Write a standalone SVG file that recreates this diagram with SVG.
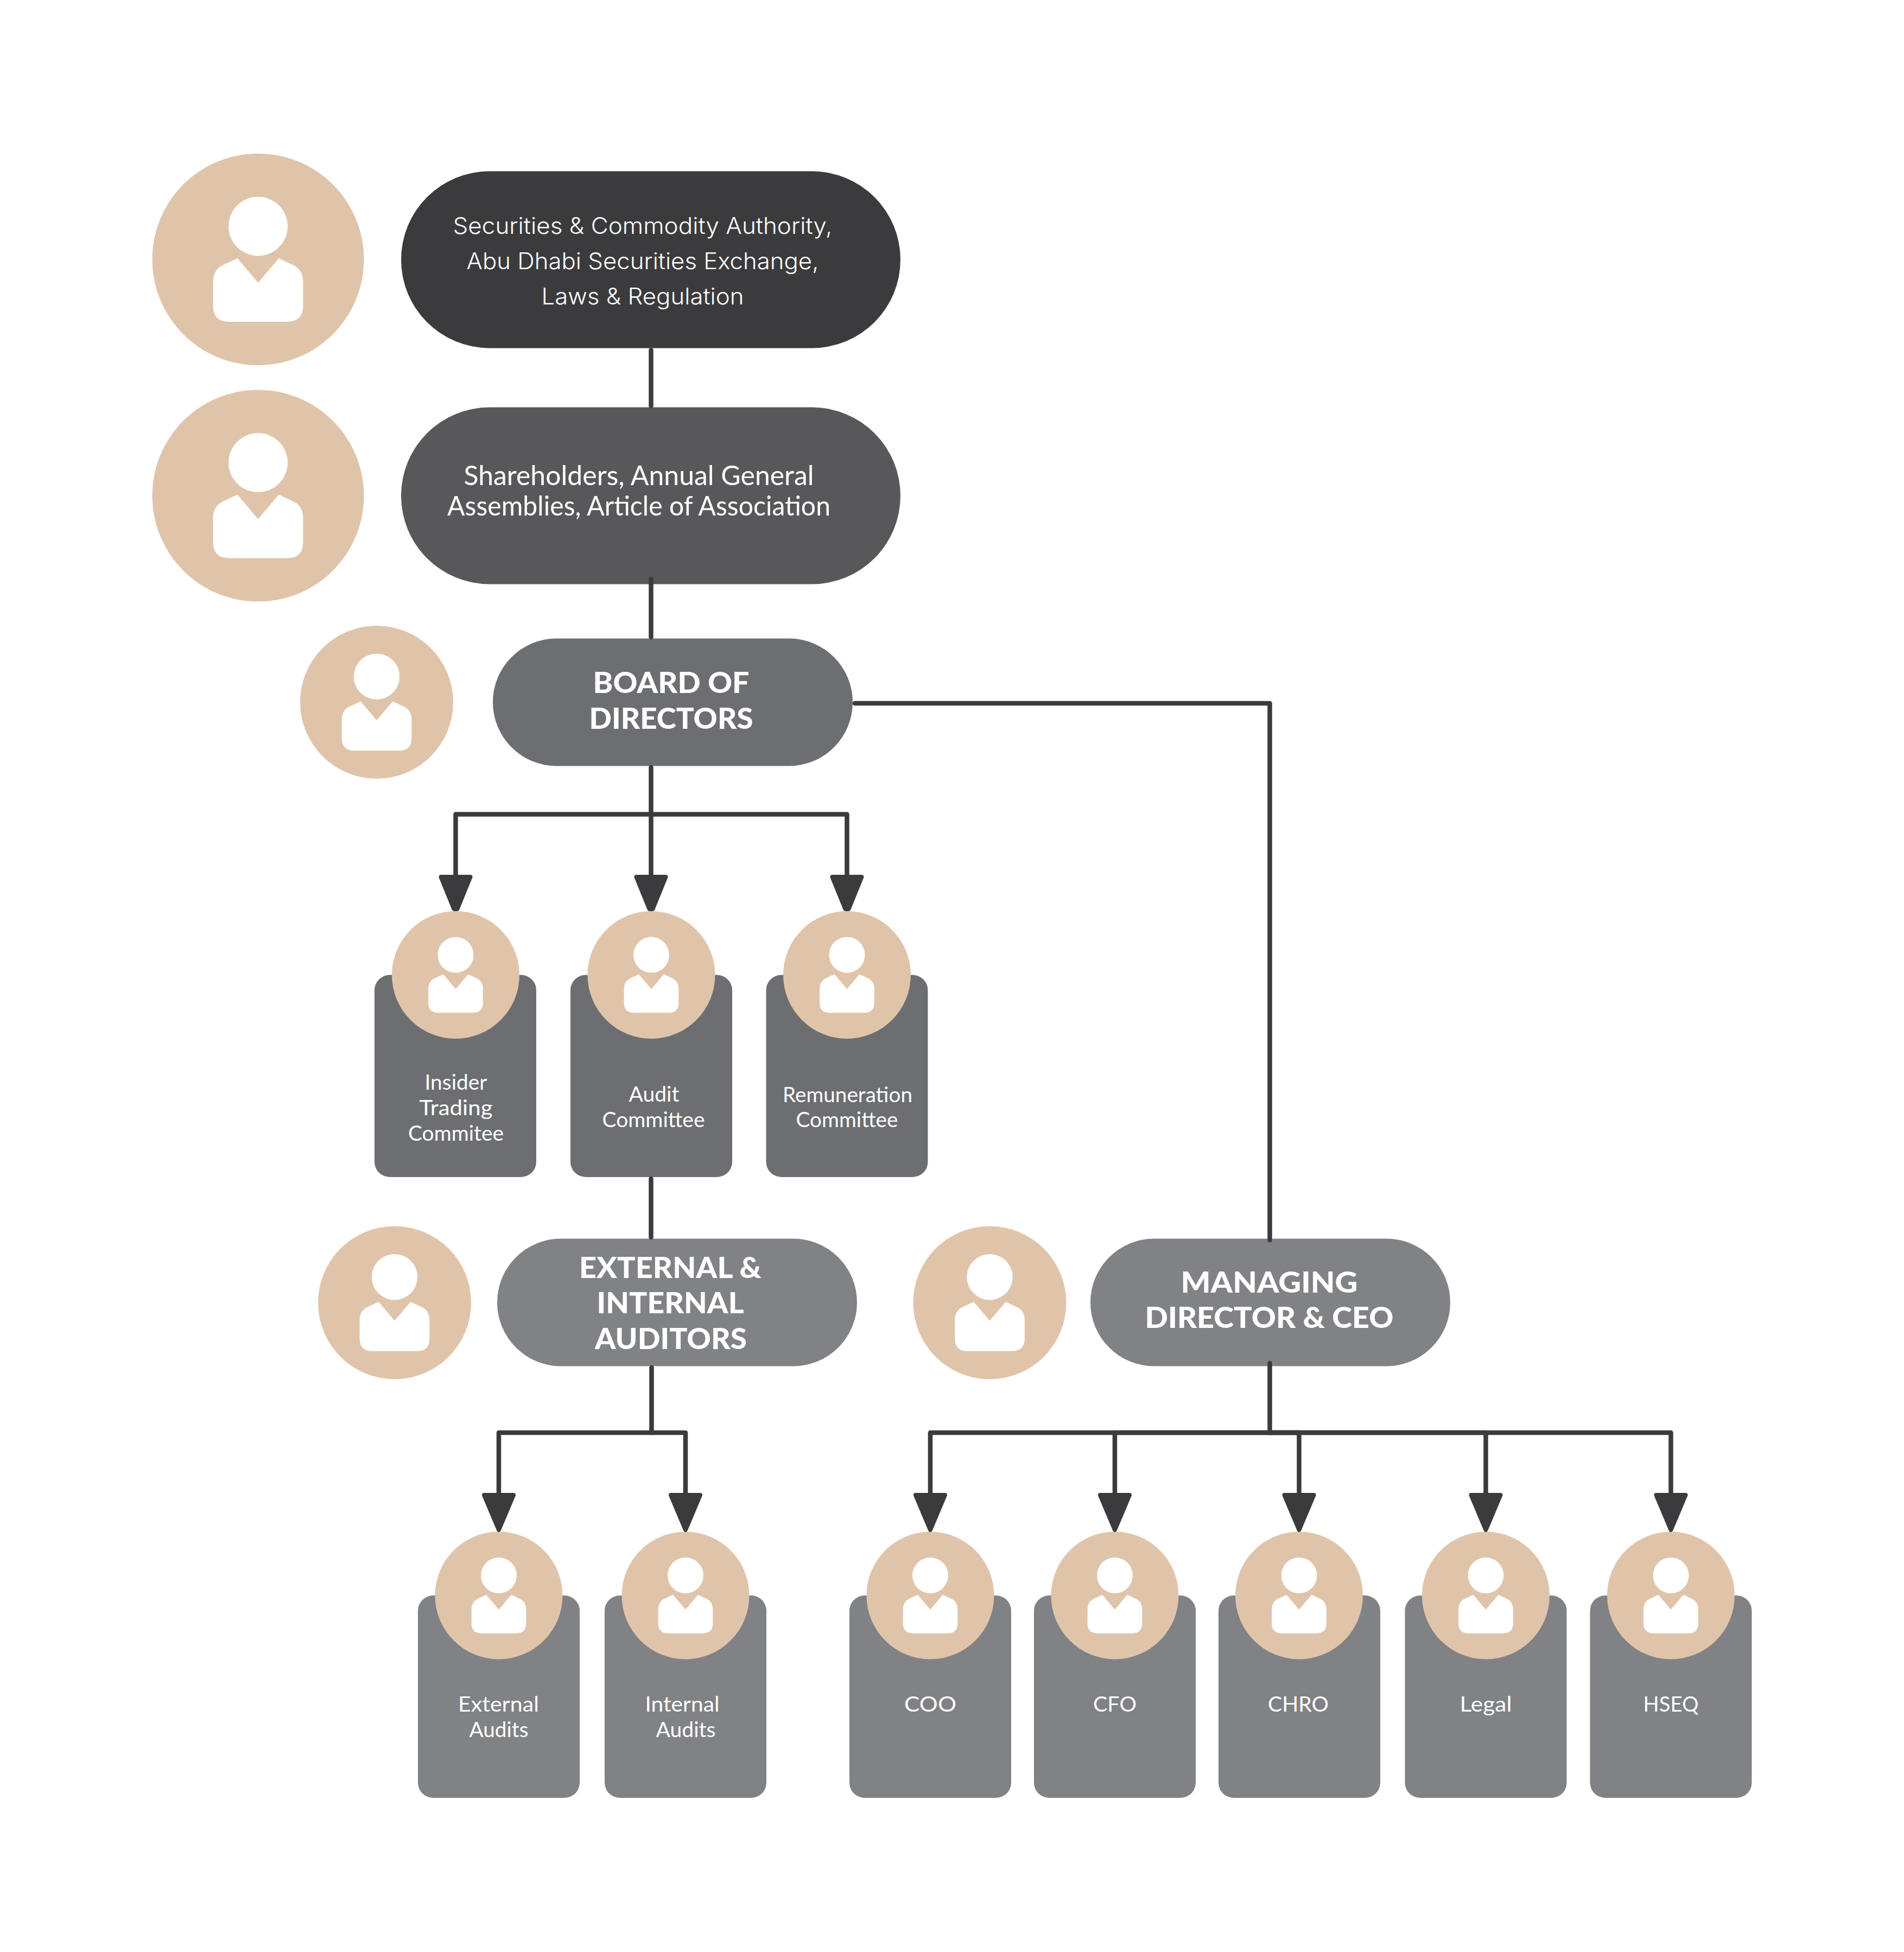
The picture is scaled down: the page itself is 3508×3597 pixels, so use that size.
<svg xmlns="http://www.w3.org/2000/svg" width="3508" height="3597" viewBox="0 0 3508 3597">
<style>
.c{fill:none;stroke:#3b3b3d;stroke-width:8.500;stroke-linejoin:round;stroke-linecap:round}
.a1{marker-end:url(#arrow1)}
.a2{marker-end:url(#arrow2)}
.disc{fill:#e0c4aa}
.fig{fill:#fff}
.p1{fill:#3b3b3d}.p2{fill:#58585a}.p3{fill:#6d6e71}.p4{fill:#808285}
text{fill:#fff;text-anchor:middle;font-family:"Lato","Liberation Sans",sans-serif}
.lg{font-family:"Inter","Liberation Sans",sans-serif;font-size:42px;font-weight:300}
.md{font-size:50px}
.bd{font-size:54px;font-weight:900}
.sm{font-size:39px}
</style>
<defs>
<marker id="arrow1" markerUnits="userSpaceOnUse" markerWidth="80" markerHeight="72" viewBox="0 -36 80 72" refX="0" refY="0" orient="auto" overflow="visible"><path d="M4,-27L4,27L63,3L63,-3Z" fill="#3b3b3d" stroke="#3b3b3d" stroke-width="8" stroke-linejoin="round"/></marker>
<marker id="arrow2" markerUnits="userSpaceOnUse" markerWidth="80" markerHeight="72" viewBox="0 -36 80 72" refX="0" refY="0" orient="auto" overflow="visible"><path d="M4,-27L4,27L68,0Z" fill="#3b3b3d" stroke="#3b3b3d" stroke-width="8" stroke-linejoin="round"/></marker>
<g id="fig">
<circle class="fig" cx="0" cy="-61" r="54.500"/>
<path class="fig" d="M-38,-2L0,43L38,-2L66,11Q83,20 83,42L83,85Q83,115 53,115L-53,115Q-83,115 -83,85L-83,42Q-83,20 -66,11Z"/>
</g>
</defs>

<g id="n-authority">
<rect class="p1" x="739" y="315.500" width="920" height="326" rx="163"/>
<circle class="disc" cx="475.500" cy="478" r="195"/><use href="#fig" transform="translate(475.500 478)"/>
<text class="lg" x="1184" y="431" textLength="699" lengthAdjust="spacingAndGlyphs">Securities &amp; Commodity Authority,</text>
<text class="lg" x="1184" y="496" textLength="649" lengthAdjust="spacingAndGlyphs">Abu Dhabi Securities Exchange,</text>
<text class="lg" x="1184" y="561" textLength="373" lengthAdjust="spacingAndGlyphs">Laws &amp; Regulation</text>
</g>
<g id="n-shareholders">
<rect class="p2" x="739" y="750.500" width="920" height="326" rx="163"/>
<circle class="disc" cx="475.500" cy="913.500" r="195"/><use href="#fig" transform="translate(475.500 913.500)"/>
<text class="md" x="1177" y="893.500" textLength="645" lengthAdjust="spacingAndGlyphs">Shareholders, Annual General</text>
<text class="md" x="1177" y="949.500" textLength="706" lengthAdjust="spacingAndGlyphs">Assemblies, Article of Association</text>
</g>
<g id="n-board">
<rect class="p3" x="908" y="1176.500" width="663" height="235" rx="117.500"/>
<circle class="disc" cx="694" cy="1294" r="141"/><use href="#fig" transform="translate(694 1294) scale(.775)"/>
<text class="bd" x="1236.500" y="1277" textLength="288" lengthAdjust="spacingAndGlyphs">BOARD OF</text>
<text class="bd" x="1236.500" y="1342.500" textLength="302" lengthAdjust="spacingAndGlyphs">DIRECTORS</text>
</g>
<g id="n-insider">
<rect class="p3" x="690" y="1796.500" width="298" height="372.500" rx="28"/>
<circle class="disc" cx="839.500" cy="1796.500" r="117.500"/><use href="#fig" transform="translate(839.500 1796.500) scale(.606)"/>
<text class="sm" x="840" y="2008" textLength="115" lengthAdjust="spacingAndGlyphs">Insider</text>
<text class="sm" x="840" y="2054.500" textLength="135" lengthAdjust="spacingAndGlyphs">Trading</text>
<text class="sm" x="840" y="2102" textLength="176" lengthAdjust="spacingAndGlyphs">Commitee</text>
</g>
<g id="n-audit">
<rect class="p3" x="1051" y="1796.500" width="298" height="372.500" rx="28"/>
<circle class="disc" cx="1200" cy="1796.500" r="117.500"/><use href="#fig" transform="translate(1200 1796.500) scale(.606)"/>
<text class="sm" x="1205" y="2029.500" textLength="93" lengthAdjust="spacingAndGlyphs">Audit</text>
<text class="sm" x="1204" y="2077" textLength="189" lengthAdjust="spacingAndGlyphs">Committee</text>
</g>
<g id="n-remuneration">
<rect class="p3" x="1411.500" y="1796.500" width="298" height="372.500" rx="28"/>
<circle class="disc" cx="1560.500" cy="1796.500" r="117.500"/><use href="#fig" transform="translate(1560.500 1796.500) scale(.606)"/>
<text class="sm" x="1561.500" y="2030.500" textLength="239" lengthAdjust="spacingAndGlyphs">Remuneration</text>
<text class="sm" x="1560.500" y="2077" textLength="188" lengthAdjust="spacingAndGlyphs">Committee</text>
</g>
<g id="n-auditors">
<rect class="p4" x="916" y="2282.500" width="663" height="235" rx="117.500"/>
<circle class="disc" cx="727" cy="2400.500" r="141"/><use href="#fig" transform="translate(727 2400.500) scale(.775)"/>
<text class="bd" x="1235" y="2354.500" textLength="336" lengthAdjust="spacingAndGlyphs">EXTERNAL &amp;</text>
<text class="bd" x="1235" y="2419.500" textLength="271" lengthAdjust="spacingAndGlyphs">INTERNAL</text>
<text class="bd" x="1236" y="2485.500" textLength="280" lengthAdjust="spacingAndGlyphs">AUDITORS</text>
</g>
<g id="n-ceo">
<rect class="p4" x="2009" y="2282.500" width="663" height="235" rx="117.500"/>
<circle class="disc" cx="1823.500" cy="2400.500" r="141"/><use href="#fig" transform="translate(1823.500 2400.500) scale(.775)"/>
<text class="bd" x="2338.500" y="2381.500" textLength="326" lengthAdjust="spacingAndGlyphs">MANAGING</text>
<text class="bd" x="2338.500" y="2447" textLength="458" lengthAdjust="spacingAndGlyphs">DIRECTOR &amp; CEO</text>
</g>
<g id="n-external-audits">
<rect class="p4" x="770" y="2940" width="298" height="373" rx="28"/>
<circle class="disc" cx="919" cy="2940" r="117.500"/><use href="#fig" transform="translate(919 2940) scale(.606)"/>
<text class="sm" x="918.500" y="3154" textLength="149" lengthAdjust="spacingAndGlyphs">External</text>
<text class="sm" x="919" y="3201" textLength="109" lengthAdjust="spacingAndGlyphs">Audits</text>
</g>
<g id="n-internal-audits">
<rect class="p4" x="1114" y="2940" width="298" height="373" rx="28"/>
<circle class="disc" cx="1263" cy="2940" r="117.500"/><use href="#fig" transform="translate(1263 2940) scale(.606)"/>
<text class="sm" x="1257" y="3154" textLength="137" lengthAdjust="spacingAndGlyphs">Internal</text>
<text class="sm" x="1263.500" y="3201" textLength="110" lengthAdjust="spacingAndGlyphs">Audits</text>
</g>
<g id="n-coo">
<rect class="p4" x="1565" y="2940" width="298" height="373" rx="28"/>
<circle class="disc" cx="1714" cy="2940" r="117.500"/><use href="#fig" transform="translate(1714 2940) scale(.606)"/>
<text class="sm" x="1714" y="3154" textLength="96" lengthAdjust="spacingAndGlyphs">COO</text>
</g>
<g id="n-cfo">
<rect class="p4" x="1905" y="2940" width="298" height="373" rx="28"/>
<circle class="disc" cx="2054" cy="2940" r="117.500"/><use href="#fig" transform="translate(2054 2940) scale(.606)"/>
<text class="sm" x="2054" y="3154" textLength="80" lengthAdjust="spacingAndGlyphs">CFO</text>
</g>
<g id="n-chro">
<rect class="p4" x="2245" y="2940" width="298" height="373" rx="28"/>
<circle class="disc" cx="2393.500" cy="2940" r="117.500"/><use href="#fig" transform="translate(2393.500 2940) scale(.606)"/>
<text class="sm" x="2392" y="3154" textLength="112" lengthAdjust="spacingAndGlyphs">CHRO</text>
</g>
<g id="n-legal">
<rect class="p4" x="2588.500" y="2940" width="298" height="373" rx="28"/>
<circle class="disc" cx="2737.500" cy="2940" r="117.500"/><use href="#fig" transform="translate(2737.500 2940) scale(.606)"/>
<text class="sm" x="2737.500" y="3154" textLength="96" lengthAdjust="spacingAndGlyphs">Legal</text>
</g>
<g id="n-hseq">
<rect class="p4" x="2929.500" y="2940" width="298" height="373" rx="28"/>
<circle class="disc" cx="3078.500" cy="2940" r="117.500"/><use href="#fig" transform="translate(3078.500 2940) scale(.606)"/>
<text class="sm" x="3078.500" y="3154" textLength="102" lengthAdjust="spacingAndGlyphs">HSEQ</text>
</g>

<g id="connectors">
<path class="c" d="M1199.500,645V748"/>
<path class="c" d="M1199.500,1067V1174"/>
<path class="c" d="M1575,1296H2339.500V2285"/>
<path class="c a1" d="M1199.500,1414V1612"/>
<path class="c a1" d="M1199.500,1500.500H839.500V1612"/>
<path class="c a1" d="M1199.500,1500.500H1560.500V1612"/>
<path class="c" d="M1199.500,2172V2280"/>
<path class="c" d="M1200.500,2520V2640"/>
<path class="c a2" d="M1200.500,2640H919V2751"/>
<path class="c a2" d="M1200.500,2640H1263V2751"/>
<path class="c" d="M2339.500,2512V2640"/>
<path class="c a2" d="M2339.500,2640H1714V2751"/>
<path class="c a2" d="M2339.500,2640H2054V2751"/>
<path class="c a2" d="M2339.500,2640H2393.500V2751"/>
<path class="c a2" d="M2339.500,2640H2737.500V2751"/>
<path class="c a2" d="M2339.500,2640H3078.500V2751"/>
</g>
</svg>
